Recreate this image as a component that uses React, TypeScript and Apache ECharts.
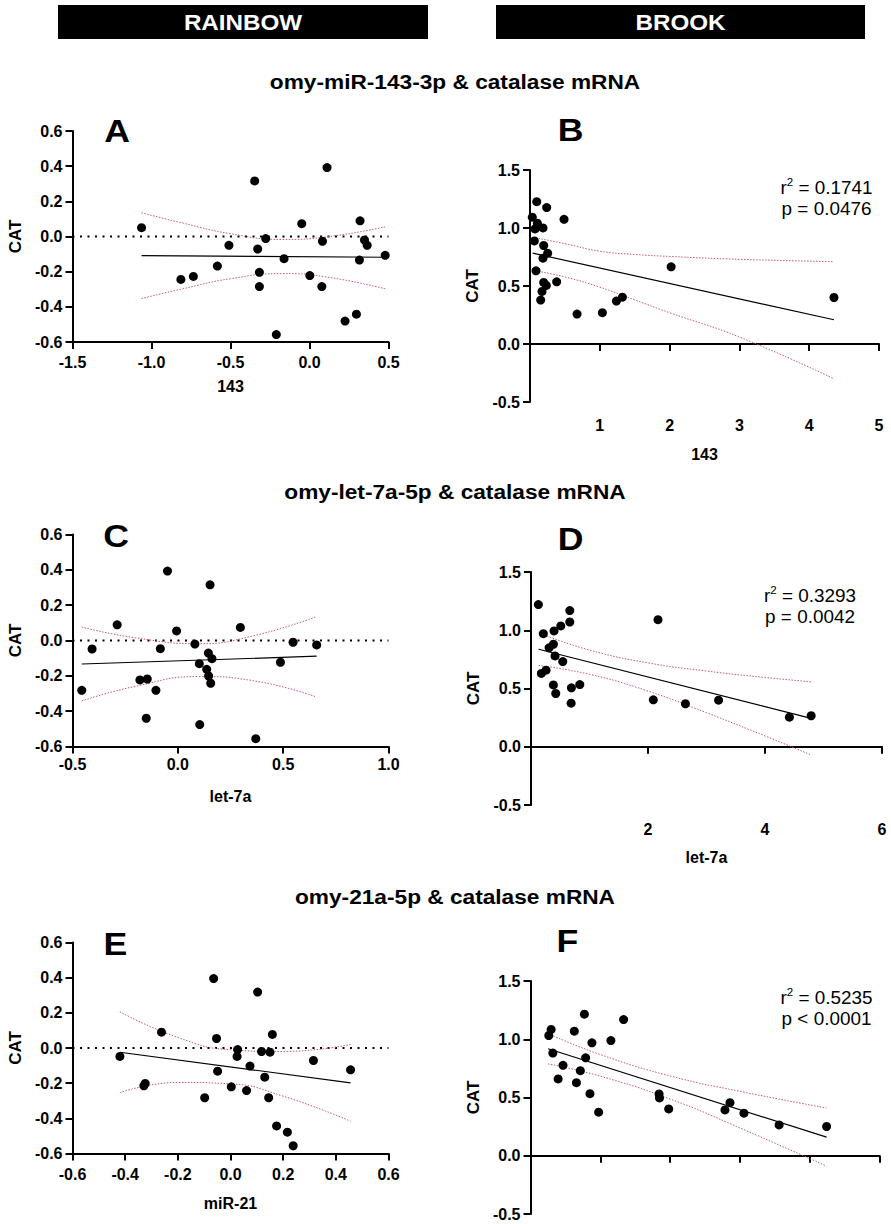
import React, { useEffect, useRef, useState } from "react";
import * as echarts from "echarts";

// ---------- DATA ----------
const aX = [-1.063, -0.814, -0.735, -0.583, -0.51, -0.347, -0.328, -0.317, -0.317, -0.277, -0.161, -0.21, -0.049, 0.002, 0.082, 0.078, 0.111, 0.225, 0.297, 0.32, 0.316, 0.348, 0.365, 0.479];
const aY = [0.05, -0.244, -0.227, -0.168, -0.05, 0.316, -0.071, -0.204, -0.285, -0.012, -0.126, -0.558, 0.073, -0.222, -0.027, -0.285, 0.392, -0.481, -0.442, 0.089, -0.134, -0.02, -0.05, -0.107];
const aFitX = [-1.063, 0.479];
const aFitY = [-0.109, -0.118];
const aCiX = [-1.063, -0.8, -0.5, -0.17, 0.1, 0.479];
const aCiU = [0.135, 0.076, 0.016, -0.017, -0.003, 0.055];
const aCiL = [-0.353, -0.297, -0.24, -0.211, -0.229, -0.297];

const bX = [0.096, 0.033, 0.105, 0.072, 0.186, 0.239, 0.488, 0.062, 0.196, 0.253, 0.186, 0.086, 0.196, 0.234, 0.172, 0.153, 0.382, 0.674, 1.037, 1.238, 1.324, 2.022, 4.355];
const bY = [1.227, 1.093, 1.041, 0.992, 1.001, 1.176, 1.075, 0.889, 0.849, 0.783, 0.74, 0.631, 0.531, 0.505, 0.453, 0.379, 0.536, 0.258, 0.27, 0.37, 0.404, 0.665, 0.401];
const bFitX = [0.038, 4.355];
const bFitY = [0.783, 0.209];
const bCiX = [0.038, 0.5, 1, 1.5, 2, 3, 4.355];
const bCiU = [0.92, 0.865, 0.8, 0.772, 0.755, 0.73, 0.71];
const bCiL = [0.635, 0.578, 0.49, 0.38, 0.27, 0.06, -0.3];

const cX = [-0.456, -0.407, -0.288, -0.18, -0.145, -0.15, -0.104, -0.083, -0.049, -0.006, 0.081, 0.102, 0.104, 0.145, 0.162, 0.137, 0.146, 0.156, 0.153, 0.297, 0.37, 0.487, 0.547, 0.659];
const cY = [-0.282, -0.048, 0.089, -0.223, -0.218, -0.44, -0.282, -0.046, 0.393, 0.054, -0.02, -0.131, -0.476, -0.071, -0.103, -0.163, -0.201, -0.242, 0.315, 0.074, -0.556, -0.123, -0.01, -0.025];
const cFitX = [-0.456, 0.659];
const cFitY = [-0.133, -0.089];
const cCiX = [-0.456, -0.2, 0.1, 0.35, 0.659];
const cCiU = [0.076, 0.015, -0.018, 0.024, 0.135];
const cCiL = [-0.342, -0.259, -0.204, -0.226, -0.32];

const dX = [0.126, 0.211, 0.394, 0.509, 0.663, 0.663, 0.309, 0.383, 0.411, 0.543, 0.177, 0.257, 0.383, 0.423, 0.691, 0.834, 0.686, 2.171, 2.091, 2.64, 3.206, 4.417, 4.789];
const dY = [1.22, 0.971, 0.994, 1.037, 1.169, 1.071, 0.849, 0.88, 0.78, 0.731, 0.629, 0.657, 0.531, 0.457, 0.506, 0.534, 0.374, 1.091, 0.403, 0.369, 0.4, 0.254, 0.266];
const dFitX = [0.131, 4.789];
const dFitY = [0.837, 0.243];
const dCiX = [0.131, 1, 2, 3, 4, 4.789];
const dCiU = [0.977, 0.83, 0.72, 0.65, 0.595, 0.557];
const dCiL = [0.697, 0.622, 0.478, 0.292, 0.093, -0.071];

const eX = [-0.42, -0.329, -0.324, -0.262, -0.098, -0.064, -0.053, -0.049, 0.003, 0.027, 0.025, 0.061, 0.074, 0.103, 0.118, 0.15, 0.159, 0.13, 0.145, 0.175, 0.216, 0.238, 0.315, 0.456];
const eY = [-0.048, -0.215, -0.202, 0.09, -0.283, 0.395, 0.054, -0.132, -0.221, -0.009, -0.048, -0.242, -0.103, 0.318, -0.02, -0.024, 0.077, -0.166, -0.283, -0.443, -0.479, -0.556, -0.071, -0.124];
const eFitX = [-0.42, 0.456];
const eFitY = [-0.024, -0.198];
const eCiX = [-0.42, -0.2, 0, 0.2, 0.456];
const eCiU = [0.206, 0.06, -0.01, -0.02, 0.02];
const eCiL = [-0.254, -0.196, -0.204, -0.274, -0.416];

const fX = [0.131, 0.148, 0.16, 0.198, 0.233, 0.314, 0.329, 0.357, 0.386, 0.395, 0.426, 0.44, 0.488, 0.576, 0.667, 0.921, 0.924, 0.99, 1.393, 1.429, 1.529, 1.781, 2.121];
const fY = [1.032, 1.084, 0.881, 0.659, 0.776, 1.069, 0.627, 0.73, 1.215, 0.841, 0.533, 0.969, 0.374, 0.989, 1.169, 0.53, 0.496, 0.402, 0.393, 0.456, 0.365, 0.265, 0.251];
const fFitX = [0.126, 2.121];
const fFitY = [0.918, 0.16];
const fCiX = [0.126, 0.5, 1, 1.5, 2.121];
const fCiU = [1.048, 0.869, 0.685, 0.553, 0.41];
const fCiL = [0.788, 0.683, 0.487, 0.239, -0.09];

const groupLabels = ["RAINBOW", "BROOK"];
const rowTitles = ["omy-miR-143-3p & catalase mRNA", "omy-let-7a-5p & catalase mRNA", "omy-21a-5p & catalase mRNA"];
const panelLetters = ["A", "B", "C", "D", "E", "F"];
const xNames = ["143", "143", "let-7a", "let-7a", "miR-21", "miR-21"];
const yName = "CAT";
const statR2 = ["", "0.1741", "", "0.3293", "", "0.5235"];
const statP = ["", "= 0.0476", "", "= 0.0042", "", "< 0.0001"];

const rainbowY = { min: -0.6, max: 0.6, interval: 0.2 };
const brookY = { min: -0.5, max: 1.5, interval: 0.5 };
const xRanges = [
  { min: -1.5, max: 0.5, interval: 0.5 },
  { min: 0, max: 5, interval: 1 },
  { min: -0.5, max: 1.0, interval: 0.5 },
  { min: 0, max: 6, interval: 2 },
  { min: -0.6, max: 0.6, interval: 0.2 },
  { min: 0, max: 2.5, interval: 0.5 },
];

const FONT = '"Liberation Sans", Arial, Helvetica, sans-serif';
const fmt1 = (v: number) => (Math.abs(v) < 1e-9 ? 0 : v).toFixed(1);
const fmt0 = (v: number) => String(Math.round(v));
const zip = (xs: number[], ys: number[]) => xs.map((x, i) => [x, ys[i]]);

const BOXES = [
  { left: 0, top: 100, width: 445, height: 370 },
  { left: 445, top: 100, width: 446, height: 370 },
  { left: 0, top: 505, width: 445, height: 370 },
  { left: 445, top: 505, width: 446, height: 370 },
  { left: 0, top: 910, width: 445, height: 314 },
  { left: 445, top: 910, width: 446, height: 314 },
];

const PANELS = [
  { grid: { left: 72.5, top: 131, width: 316, height: 211 }, y: rainbowY, pts: [aX, aY], fit: [aFitX, aFitY], ci: [aCiX, aCiU, aCiL], brook: false, xfmt: fmt1, lm: 12, ng: 36, yng: 45, letter: [117, 131], stat: [0, 0, 0] },
  { grid: { left: 530, top: 170, width: 349, height: 232 }, y: brookY, pts: [bX, bY], fit: [bFitX, bFitY], ci: [bCiX, bCiU, bCiL], brook: true, xfmt: fmt0, lm: 15, ng: 44, yng: 49, letter: [570.5, 130], stat: [826.5, 187, 208.5] },
  { grid: { left: 72.5, top: 534.5, width: 316, height: 212 }, y: rainbowY, pts: [cX, cY], fit: [cFitX, cFitY], ci: [cCiX, cCiU, cCiL], brook: false, xfmt: fmt1, lm: 10, ng: 42, yng: 45, letter: [116, 536.5], stat: [0, 0, 0] },
  { grid: { left: 531, top: 572, width: 351, height: 233 }, y: brookY, pts: [dX, dY], fit: [dFitX, dFitY], ci: [dCiX, dCiU, dCiL], brook: true, xfmt: fmt0, lm: 16, ng: 44, yng: 49, letter: [570.5, 539], stat: [810, 594.5, 617] },
  { grid: { left: 72.5, top: 942.5, width: 316, height: 211 }, y: rainbowY, pts: [eX, eY], fit: [eFitX, eFitY], ci: [eCiX, eCiU, eCiL], brook: false, xfmt: fmt1, lm: 13, ng: 42, yng: 45, letter: [115.5, 944], stat: [0, 0, 0] },
  { grid: { left: 530.5, top: 981, width: 349, height: 233 }, y: brookY, pts: [fX, fY], fit: [fFitX, fFitY], ci: [fCiX, fCiU, fCiL], brook: true, xfmt: fmt1, lm: 14, ng: 44, yng: 49, letter: [567.5, 941.5], stat: [826.5, 997, 1019] },
];

function panelOption(i: number) {
  const p = PANELS[i];
  const box = BOXES[i];
  const xr = xRanges[i];
  const series: any[] = [];
  if (!p.brook) {
    series.push({ type: "line", xAxisIndex: 0, yAxisIndex: 0, data: [[xr.min, 0], [xr.max, 0]], symbol: "none", lineStyle: { color: "#000", width: 2.2, type: [2, 5.5] }, z: 2 });
  }
  const [cx, cu, cl] = p.ci;
  series.push({ type: "line", xAxisIndex: 0, yAxisIndex: 0, data: zip(cx, cu), smooth: true, symbol: "none", lineStyle: { color: "#c4587a", width: 1, type: [1.5, 1.5] }, z: 3 });
  series.push({ type: "line", xAxisIndex: 0, yAxisIndex: 0, data: zip(cx, cl), smooth: true, symbol: "none", lineStyle: { color: "#c4587a", width: 1, type: [1.5, 1.5] }, z: 3 });
  series.push({ type: "line", xAxisIndex: 0, yAxisIndex: 0, data: zip(p.fit[0], p.fit[1]), symbol: "none", lineStyle: { color: "#000", width: 1.2 }, z: 4 });
  series.push({ type: "scatter", xAxisIndex: 0, yAxisIndex: 0, data: zip(p.pts[0], p.pts[1]), symbolSize: 9, itemStyle: { color: "#000", opacity: 1 }, z: 5 });

  const graphic: any[] = [
    { type: "text", x: p.letter[0] - box.left, y: p.letter[1] - box.top, scaleX: 1.15, style: { text: panelLetters[i], fill: "#000", font: `bold 31px ${FONT}`, textAlign: "center", textVerticalAlign: "middle" } },
  ];
  if (p.brook) {
    const [sx, y1, y2] = p.stat;
    graphic.push({ type: "text", x: sx - box.left, y: y1 - box.top, scaleX: 1.05, style: { text: `{a|r}{b|2}{a| = ${statR2[i]}}`, textAlign: "center", textVerticalAlign: "middle", rich: { a: { fontFamily: FONT, fontSize: 18, lineHeight: 20, verticalAlign: "bottom" }, b: { fontFamily: FONT, fontSize: 11, lineHeight: 20, verticalAlign: "top" } } } });
    graphic.push({ type: "text", x: sx - box.left, y: y2 - box.top, scaleX: 1.05, style: { text: `p ${statP[i]}`, fill: "#000", font: `18px ${FONT}`, textAlign: "center", textVerticalAlign: "middle" } });
  }

  return {
    animation: false,
    backgroundColor: "#fff",
    grid: [{ left: p.grid.left - box.left, top: p.grid.top - box.top, width: p.grid.width, height: p.grid.height, containLabel: false, outerBoundsMode: "none" }],
    xAxis: [{
      type: "value", gridIndex: 0, min: xr.min, max: xr.max, interval: xr.interval,
      name: xNames[i], nameLocation: "middle", nameGap: p.ng,
      nameTextStyle: { fontFamily: FONT, fontSize: 16, fontWeight: "bold", color: "#000" },
      axisLine: { show: true, onZero: p.brook, lineStyle: { color: "#000", width: 2 } },
      axisTick: { show: true, length: 7, lineStyle: { color: "#000", width: 2 } },
      splitLine: { show: false },
      axisLabel: { formatter: p.xfmt, fontFamily: FONT, fontWeight: "bold", fontSize: 16, color: "#000", margin: p.lm, showMinLabel: !p.brook },
    }],
    yAxis: [{
      type: "value", gridIndex: 0, min: p.y.min, max: p.y.max, interval: p.y.interval,
      name: yName, nameLocation: "middle", nameGap: p.yng,
      nameTextStyle: { fontFamily: FONT, fontSize: 17, fontWeight: "bold", color: "#000" },
      axisLine: { show: true, onZero: false, lineStyle: { color: "#000", width: 2 } },
      axisTick: { show: true, length: 7, lineStyle: { color: "#000", width: 2 } },
      splitLine: { show: false },
      axisLabel: { formatter: fmt1, fontFamily: FONT, fontWeight: "bold", fontSize: 16, color: "#000", margin: 10 },
    }],
    series,
    graphic,
  };
}

function backgroundOption() {
  const graphic: any[] = [];
  const bars = [{ x: 58, w: 370, cx: 243 }, { x: 496, w: 369, cx: 680.5 }];
  bars.forEach((b, i) => {
    graphic.push({ type: "rect", shape: { x: b.x, y: 5, width: b.w, height: 34 }, style: { fill: "#000" } });
    graphic.push({ type: "text", x: b.cx, y: 22.5, scaleX: 1.1, style: { text: groupLabels[i], fill: "#fff", font: `bold 22px ${FONT}`, textAlign: "center", textVerticalAlign: "middle" } });
  });
  const titleY = [82, 492, 897];
  rowTitles.forEach((t, i) => {
    graphic.push({ type: "text", x: 455, y: titleY[i], scaleX: 1.08, style: { text: t, fill: "#000", font: `bold 21px ${FONT}`, textAlign: "center", textVerticalAlign: "middle" } });
  });
  return { animation: false, backgroundColor: "#fff", graphic };
}

export default function App() {
  const bgRef = useRef<HTMLDivElement>(null);
  const panelRefs = useRef<(HTMLDivElement | null)[]>([]);
  const [, setReady] = useState(false);

  useEffect(() => {
    document.body.style.margin = "0";
    const charts: any[] = [];
    if (bgRef.current) {
      const bg = echarts.init(bgRef.current, undefined, { renderer: "svg" });
      bg.setOption(backgroundOption());
      charts.push(bg);
    }
    panelRefs.current.forEach((el, i) => {
      if (!el) return;
      const chart = echarts.init(el, undefined, { renderer: "svg" });
      chart.setOption(panelOption(i));
      charts.push(chart);
    });
    setReady(true);
    return () => charts.forEach((c) => c && c.dispose());
  }, []);

  return (
    <div>
      <div ref={bgRef} style={{ position: "absolute", left: 0, top: 0, width: 891, height: 1224 }} />
      {BOXES.map((b, i) => (
        <div
          key={i}
          ref={(el) => {
            panelRefs.current[i] = el;
          }}
          style={{ position: "absolute", left: b.left, top: b.top, width: b.width, height: b.height }}
        />
      ))}
    </div>
  );
}
